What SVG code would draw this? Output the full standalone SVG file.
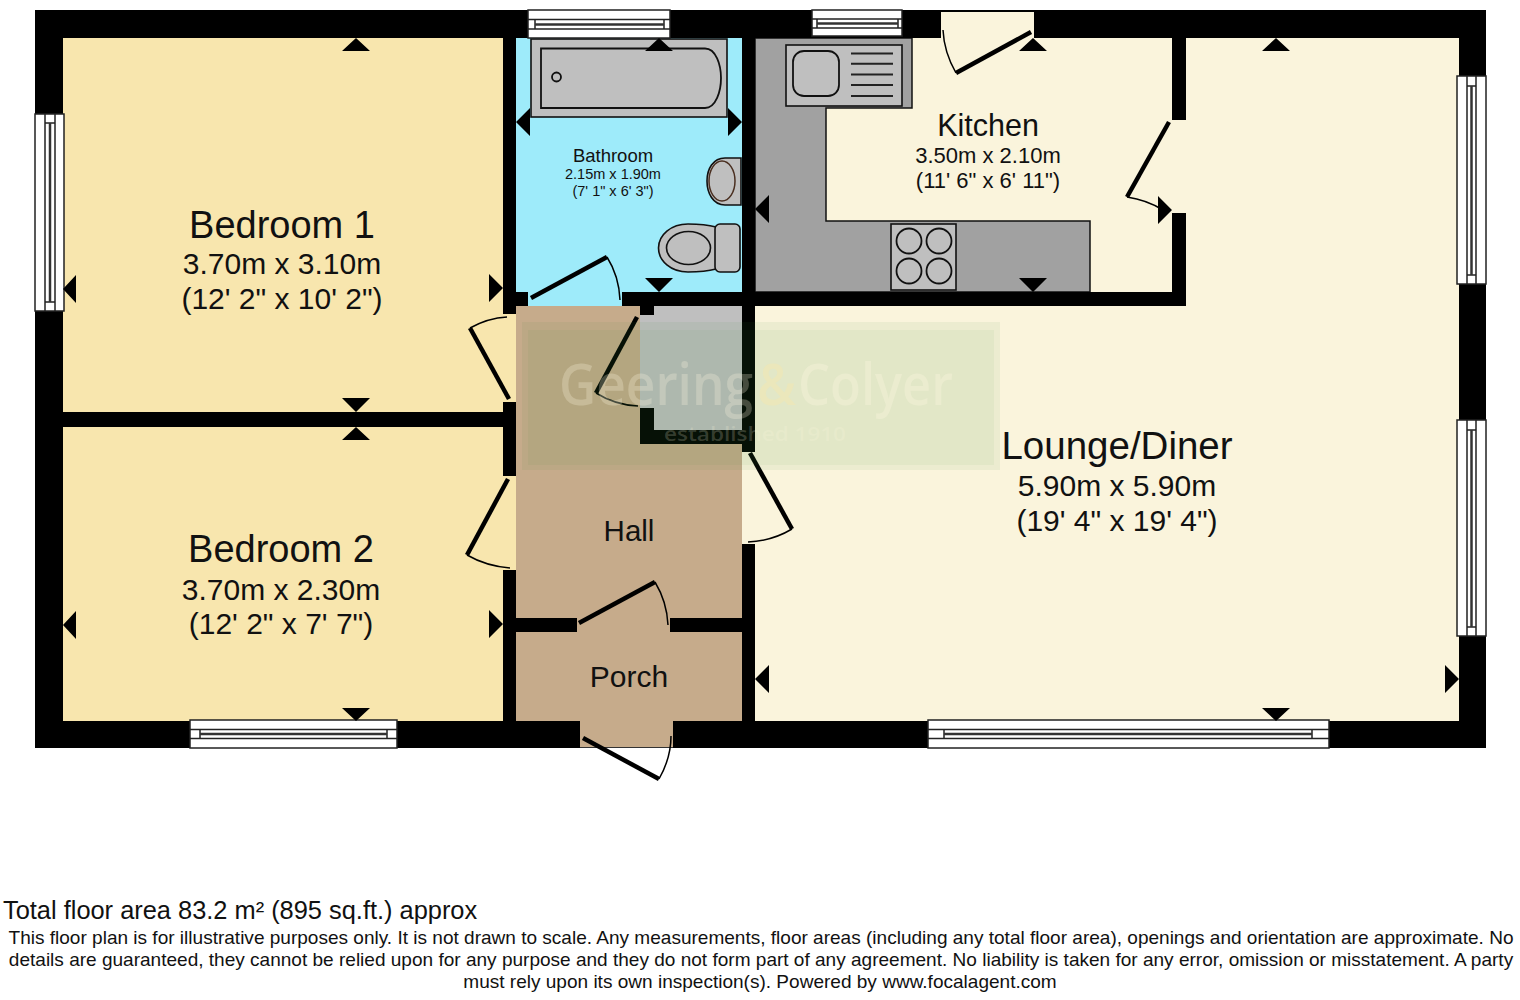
<svg xmlns="http://www.w3.org/2000/svg" width="1520" height="1000" viewBox="0 0 1520 1000">
<style>
text{font-family:"Liberation Sans",Arial,sans-serif;fill:#111;text-anchor:middle}
.wall{fill:#000}
.mark{fill:#000}
.leaf{stroke:#000;stroke-width:4.500;fill:none}
.arc{stroke:#000;stroke-width:1.500;fill:none}
.win{fill:#fff;stroke:#222;stroke-width:1.5}
.wl{stroke:#222;stroke-width:1.5;fill:none}
.wc{stroke:#333;stroke-width:2.5;fill:none}
.fix{fill:#bfbfbf;stroke:#111;stroke-width:1.6}
.fixb{fill:none;stroke:#111;stroke-width:1.800}
.unit{fill:#a1a1a1;stroke:#111;stroke-width:1.5}
.foot{font-size:19.050px}
.wm{font-family:"Open Sans","Noto Sans",sans-serif;font-weight:600;fill:#fff8e0;text-anchor:start}
</style>
<rect width="1520" height="1000" fill="#fff"/>
<g id="rooms">
<rect x="50" y="25" width="466" height="395" fill="#f8e6ae"/>
<rect x="50" y="420" width="466" height="310" fill="#f8e6ae"/>
<rect x="510" y="25" width="240" height="275" fill="#9eebfa"/>
<rect x="742" y="25" width="728" height="700" fill="#faf4dc"/>
<rect x="516" y="300" width="226" height="447" fill="#c6ab8b"/>
<rect x="516" y="292" width="106" height="14" fill="#9eebfa"/>
<rect x="640" y="306" width="102" height="124" fill="#bfbfbf"/>
</g>
<g id="kitchen-units">
<path class="unit" d="M755 38H912V108H826V221H1090V292H755Z"/>
<rect class="fix" x="786" y="45" width="116" height="61"/>
<rect class="fixb" x="793" y="51" width="46" height="45" rx="11"/>
<path class="wl" style="stroke-width:2" d="M851 53.500H893M851 63.700H893M851 74.500H893M851 85H893M851 96H893"/>
<rect class="fix" x="891" y="224" width="65" height="66"/>
<g class="fixb"><circle cx="909" cy="241" r="12.500"/><circle cx="939" cy="241" r="12.500"/><circle cx="909" cy="271" r="12.500"/><circle cx="939" cy="271" r="12.500"/></g>
</g>
<g id="bathroom-fittings">
<rect class="fix" x="531" y="39" width="196" height="78"/>
<path class="fixb" d="M541 48.500H705C716 48.500 721 65 721 78C721 91 716 108 705 108H541Z"/>
<circle class="fixb" cx="556.500" cy="77" r="4.500"/>
<path class="fix" d="M741 158H725C713 158 707 169 707 181C707 193 713 205 725 205H741Z"/>
<ellipse cx="722" cy="181" rx="13" ry="20" fill="none" stroke="#4a2f20" stroke-width="1.500"/>
<path class="fix" d="M716 227C705 224 695 224 688 224C671 224 658.500 235 658.500 248C658.500 261 671 272 688 272C695 272 705 272 716 269Z"/>
<ellipse cx="688.500" cy="248" rx="22" ry="16.500" fill="none" stroke="#111" stroke-width="1.600"/>
<rect class="fix" x="715" y="224" width="25" height="48" rx="5"/>
</g>
<g id="walls">
<path class="wall" d="M35 10H1486V748H35Z M63 38V721H1459V38Z" fill-rule="evenodd"/>
<rect class="wall" x="63" y="412" width="440" height="15"/>
<rect class="wall" x="503" y="38" width="13" height="276"/>
<rect class="wall" x="503" y="402" width="13" height="74"/>
<rect class="wall" x="503" y="570" width="13" height="151"/>
<rect class="wall" x="503" y="292" width="25" height="14"/>
<rect class="wall" x="622" y="292" width="564" height="14"/>
<rect class="wall" x="742" y="38" width="13" height="414"/>
<rect class="wall" x="742" y="544" width="13" height="177"/>
<rect class="wall" x="640" y="306" width="14" height="9"/>
<path class="wall" d="M640 408H654V430H742V444H640Z"/>
<rect class="wall" x="1172" y="38" width="14" height="82"/>
<rect class="wall" x="1172" y="213" width="14" height="85"/>
<rect class="wall" x="516" y="618" width="61" height="14"/>
<rect class="wall" x="670" y="618" width="72" height="14"/>
<rect x="580" y="720" width="93" height="27" fill="#c6ab8b"/>
<path d="M580 747.500H673" stroke="#333" stroke-width="1"/>
<rect x="941" y="12" width="93" height="27" fill="#faf4dc"/>
</g>
<g id="windows">
<rect class="win" x="35" y="114" width="29" height="197"/><path class="wl" d="M45 114V311M55 114V311M45 123H55M45 302H55"/><path class="wc" d="M50 123V302"/>
<rect class="win" x="1457" y="76" width="29" height="208"/><path class="wl" d="M1467 76V284M1476 76V284M1467 86H1476M1467 275H1476"/><path class="wc" d="M1471.500 86V275"/>
<rect class="win" x="1457" y="420" width="29" height="216"/><path class="wl" d="M1467 420V636M1476 420V636M1467 430H1476M1467 627H1476"/><path class="wc" d="M1471.500 430V627"/>
<rect class="win" x="190" y="720" width="207" height="28"/><path class="wl" d="M190 729.500H397M190 738.500H397M200 729.500V738.500M387 729.500V738.500"/><path class="wc" d="M200 734H387"/>
<rect class="win" x="928" y="720" width="401" height="28"/><path class="wl" d="M928 729.500H1329M928 738.500H1329M944 729.500V738.500M1312 729.500V738.500"/><path class="wc" d="M944 734H1312"/>
<rect class="win" x="528" y="10" width="142" height="28"/><path class="wl" d="M528 19.500H670M528 29H670M535 19.500V29M664 19.500V29"/><path class="wc" d="M535 24.500H664"/>
<rect class="win" x="812" y="10" width="90" height="26"/><path class="wl" d="M812 19H902M812 28H902M817 19V28M898 19V28"/><path class="wc" d="M817 23.500H898"/>
</g>
<g id="doors">
<path class="leaf" d="M531 298L607 257"/><path class="arc" d="M607 257Q619 276 620 300"/>
<path class="leaf" d="M509 399L470 328"/><path class="arc" d="M470 328Q488 318 507 317"/>
<path class="leaf" d="M637 317L596 393"/><path class="arc" d="M596 393Q615 405 638 406"/>
<path class="leaf" d="M508 479L467 555"/><path class="arc" d="M467 555Q486 566 510 568"/>
<path class="leaf" d="M750 453L792 529"/><path class="arc" d="M792 529Q772 541 748 542"/>
<path class="leaf" d="M579 623L655 582"/><path class="arc" d="M655 582Q667 602 668 625"/>
<path class="leaf" d="M583 738L659 779"/><path class="arc" d="M659 779Q671 758 671 736"/>
<path class="leaf" d="M1031 32L956 73"/><path class="arc" d="M956 73Q944 52 943 30"/>
<path class="leaf" d="M1169 122L1127 197"/><path class="arc" d="M1127 197Q1147 200 1163 210"/>
</g>
<g id="markers" class="mark">
<path d="M356 38L370 51H342Z M659 38L673 51H645Z M1033 38L1047 51H1019Z M1276 38L1290 51H1262Z M356 427L370 440H342Z"/>
<path d="M356 412L370 398H342Z M659 292L673 278H645Z M1033 292L1047 278H1019Z M356 721L370 708H342Z M1276 721L1290 708H1262Z"/>
<path d="M63 289L76 275V303Z M63 625L76 611V639Z M516 122L530 108V136Z M755 209L769 195V223Z M755 679L769 665V693Z"/>
<path d="M503 288L489 274V302Z M503 624L489 610V638Z M742 122L728 108V136Z M1172 210L1158 196V224Z M1459 679L1445 665V693Z"/>
</g>
<g id="labels">
<text x="282" y="238" font-size="38">Bedroom 1</text>
<text x="282" y="274" font-size="30">3.70m x 3.10m</text>
<text x="282" y="309" font-size="30">(12' 2" x 10' 2")</text>
<text x="281" y="562" font-size="38">Bedroom 2</text>
<text x="281" y="600" font-size="30">3.70m x 2.30m</text>
<text x="281" y="634" font-size="30">(12' 2" x 7' 7")</text>
<text x="613" y="162" font-size="18.500">Bathroom</text>
<text x="613" y="179" font-size="14.500">2.15m x 1.90m</text>
<text x="613" y="196" font-size="14.500">(7' 1" x 6' 3")</text>
<text x="988" y="136" font-size="30.500">Kitchen</text>
<text x="988" y="163" font-size="22">3.50m x 2.10m</text>
<text x="988" y="188" font-size="22">(11' 6" x 6' 11")</text>
<text x="1117" y="459" font-size="38.500">Lounge/Diner</text>
<text x="1117" y="496" font-size="30">5.90m x 5.90m</text>
<text x="1117" y="531" font-size="30">(19' 4" x 19' 4")</text>
<text x="629" y="541" font-size="29.500">Hall</text>
<text x="629" y="687" font-size="30">Porch</text>
</g>
<g id="watermark">
<rect x="522" y="322" width="478" height="148" fill="rgb(50,144,53)" fill-opacity=".07"/>
<rect x="528" y="330" width="466" height="135" fill="rgb(50,144,53)" fill-opacity=".055"/>
<text class="wm" x="559" y="405" font-size="57" fill-opacity=".26" textLength="194" lengthAdjust="spacingAndGlyphs">Geering</text>
<text class="wm" x="757" y="405" font-size="57" style="fill:#ffe9a0" fill-opacity=".3" textLength="39" lengthAdjust="spacingAndGlyphs">&amp;</text>
<text class="wm" x="798" y="405" font-size="57" fill-opacity=".3" textLength="155" lengthAdjust="spacingAndGlyphs">Colyer</text>
<text class="wm" x="664" y="441" font-size="20" fill-opacity=".2" textLength="182" lengthAdjust="spacingAndGlyphs">established 1910</text>
</g>
<g id="footer">
<text x="3" y="919" font-size="25.400" style="text-anchor:start">Total floor area 83.2 m² (895 sq.ft.) approx</text>
<text class="foot" x="761" y="944">This floor plan is for illustrative purposes only. It is not drawn to scale. Any measurements, floor areas (including any total floor area), openings and orientation are approximate. No</text>
<text class="foot" x="761" y="966">details are guaranteed, they cannot be relied upon for any purpose and they do not form part of any agreement. No liability is taken for any error, omission or misstatement. A party</text>
<text class="foot" x="760" y="988">must rely upon its own inspection(s). Powered by www.focalagent.com</text>
</g>
</svg>
